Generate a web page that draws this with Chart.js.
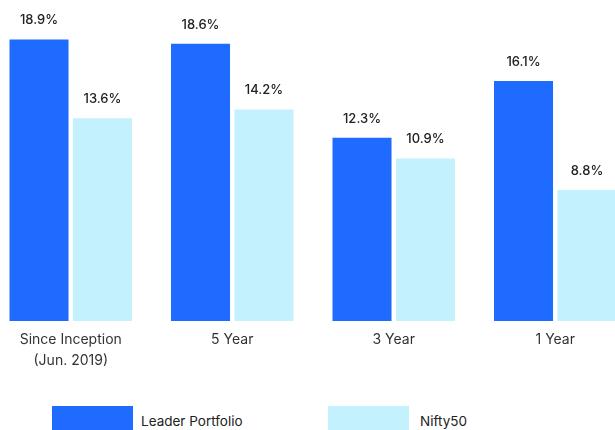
<!DOCTYPE html>
<html lang="en">
<head>
    <meta charset="UTF-8">
    <title>Portfolio Returns</title>
    <style>
        body {
            margin: 0;
            width: 615px;
            height: 430px;
            overflow: hidden;
            position: relative;
            background: #fff;
            font-family: Inter, "Noto Sans", sans-serif;
        }

        .chart-container {
            position: absolute;
            left: -10px;
            top: 0;
            width: 646px;
            height: 379px;
        }

        .legend-box {
            position: absolute;
            top: 406px;
            width: 81px;
            height: 24px;
        }

        .legend-text {
            position: absolute;
            top: 412px;
            font-size: 13.5px;
            line-height: 18px;
            color: #222;
        }
    </style>
</head>
<body>

<div class="chart-container">
    <canvas id="chartCanvas"></canvas>
</div>

<div class="legend-box" style="left:52px; background:#1F6BFF"></div>
<div class="legend-text" style="left:141px">Leader Portfolio</div>
<div class="legend-box" style="left:328px; background:#C3F1FD"></div>
<div class="legend-text" style="left:420px">Nifty50</div>

<script src="https://cdn.jsdelivr.net/npm/chart.js"></script>
<script>
    const categories = [['Since Inception', '(Jun. 2019)'], '5 Year', '3 Year', '1 Year'];
    const leaderPortfolio = [18.9, 18.6, 12.3, 16.1];
    const nifty50 = [13.6, 14.2, 10.9, 8.8];

    // draw the % value above every bar
    const valueLabels = {
        id: 'valueLabels',
        afterDatasetsDraw(chart) {
            const ctx = chart.ctx;
            ctx.save();
            ctx.font = '500 13px Inter, "Noto Sans", sans-serif';
            ctx.fillStyle = '#222';
            ctx.textAlign = 'center';
            ctx.textBaseline = 'middle';
            chart.data.datasets.forEach((ds, i) => {
                chart.getDatasetMeta(i).data.forEach((bar, j) => {
                    ctx.fillText(ds.data[j].toFixed(1) + '%', bar.x, bar.y - 19);
                });
            });
            ctx.restore();
        }
    };

    const ctx = document.getElementById('chartCanvas').getContext('2d');
    new Chart(ctx, {
        type: 'bar',
        data: {
            labels: categories,
            datasets: [
                {label: 'Leader Portfolio', data: leaderPortfolio, backgroundColor: '#1F6BFF'},
                {label: 'Nifty50', data: nifty50, backgroundColor: '#C3F1FD'}
            ]
        },
        options: {
            responsive: true,
            maintainAspectRatio: false,
            animation: false,
            categoryPercentage: 0.786,
            barPercentage: 0.93,
            layout: {padding: {top: 23, left: 0, right: 0, bottom: 0}},
            plugins: {
                legend: {display: false},
                tooltip: {enabled: false}
            },
            scales: {
                x: {
                    grid: {display: false, drawTicks: false},
                    border: {display: false},
                    ticks: {
                        padding: 8,
                        color: '#333',
                        font: {family: 'Inter, "Noto Sans", sans-serif', size: 14, lineHeight: 1.5}
                    }
                },
                y: {
                    display: false,
                    min: 0,
                    max: 20
                }
            }
        },
        plugins: [valueLabels]
    });
</script>

</body>
</html>
